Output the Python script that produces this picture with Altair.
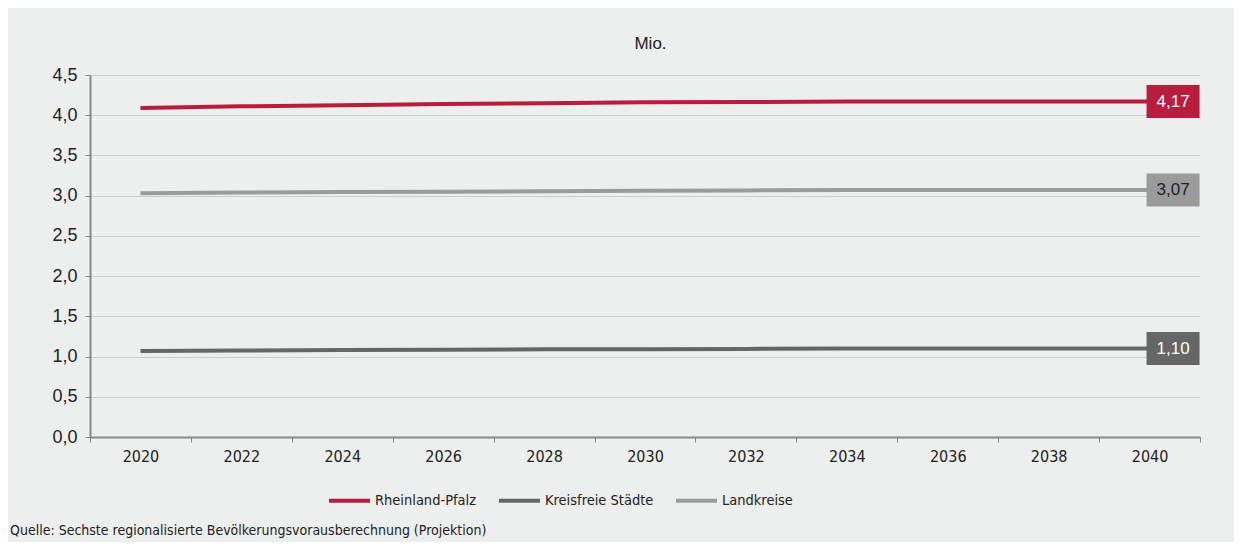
import altair as alt
import pandas as pd

years = ["2020", "2022", "2024", "2026", "2028", "2030", "2032", "2034", "2036", "2038", "2040"]
series = ["Rheinland-Pfalz", "Kreisfreie Städte", "Landkreise"]
rlp = [4.09, 4.11, 4.125, 4.14, 4.15, 4.16, 4.165, 4.17, 4.172, 4.172, 4.17]
kfs = [1.07, 1.075, 1.08, 1.085, 1.09, 1.09, 1.095, 1.10, 1.10, 1.10, 1.10]
lk = [3.03, 3.04, 3.045, 3.05, 3.055, 3.06, 3.065, 3.07, 3.07, 3.07, 3.07]
end_labels = ["4,17", "1,10", "3,07"]
end_values = [4.17, 1.10, 3.07]
colors = ["#BA1C3E", "#666666", "#9B9B9B"]
label_text_colors = ["#FFFFFF", "#FFFFFF", "#222222"]
source = "Quelle: Sechste regionalisierte Bevölkerungsvorausberechnung (Projektion)"

rows = []
for name, vals in zip(series, [rlp, kfs, lk]):
    for y, v in zip(years, vals):
        rows.append({"Jahr": y, "Wert": v, "Reihe": name})
df = pd.DataFrame(rows)

lab = pd.DataFrame({
    "Jahr": [years[-1]] * 3,
    "Wert": end_values,
    "Reihe": series,
    "Text": end_labels,
    "TextFarbe": label_text_colors,
})

NARROW = "DejaVu Sans Condensed, Liberation Sans Narrow, sans-serif"
REG = "Liberation Sans, Arial, sans-serif"

x_enc = alt.X(
    "Jahr:O",
    sort=years,
    bandPosition=0.5,
    scale=alt.Scale(type="band", paddingInner=0, paddingOuter=0),
    axis=alt.Axis(
        title=None, labelAngle=0, tickBand="extent", grid=False,
        domainColor="#888888", domainWidth=2, tickColor="#888888", tickSize=5,
        labelFont=NARROW, labelFontSize=16, labelColor="#222222", labelPadding=6,
    ),
)
y_enc = alt.Y(
    "Wert:Q",
    scale=alt.Scale(domain=[0, 4.5], nice=False),
    axis=alt.Axis(
        values=[0, 0.5, 1, 1.5, 2, 2.5, 3, 3.5, 4, 4.5],
        labelExpr="replace(format(datum.value, '.1f'), '.', ',')",
        title="Mio.", titleAngle=0, titleX=560, titleY=-32, titleAlign="center",
        titleBaseline="middle",
        titleFont=REG, titleFontSize=17, titleFontWeight="normal", titleColor="#222222",
        domainColor="#888888", domainWidth=2, tickColor="#888888", tickSize=5,
        gridColor="#CCCCCC", gridWidth=1,
        labelFont=REG, labelFontSize=18, labelColor="#222222", labelPadding=8,
    ),
)

color_scale = alt.Scale(domain=series, range=colors)

lines = alt.Chart(df).mark_line(strokeWidth=4, strokeCap="butt").encode(
    x=x_enc,
    y=y_enc,
    color=alt.Color(
        "Reihe:N", scale=color_scale, sort=series,
        legend=alt.Legend(
            title=None, orient="none", legendX=237, legendY=403, direction="horizontal",
            padding=0,
            symbolType="stroke", symbolSize=1681, symbolStrokeWidth=4,
            labelFont=NARROW, labelFontSize=14.5, labelColor="#222222",
            labelOffset=3, columnPadding=14,
        ),
    ),
    order=alt.Order("Reihe:N"),
)

boxes = alt.Chart(lab).mark_point(
    shape="M-1.606,-1H1.606V1H-1.606Z", size=1089, filled=True, opacity=1,
    strokeWidth=0, xOffset=23.5,
).encode(
    x=alt.X("Jahr:O", sort=years, bandPosition=0.5),
    y="Wert:Q",
    color=alt.Color("Reihe:N", scale=color_scale, legend=None),
)

texts = alt.Chart(lab).mark_text(
    font=REG, fontSize=17, xOffset=23.5, align="center", baseline="middle",
).encode(
    x=alt.X("Jahr:O", sort=years, bandPosition=0.5),
    y="Wert:Q",
    text="Text:N",
    color=alt.Color("TextFarbe:N", scale=None),
)

src = alt.Chart(pd.DataFrame({"t": [source]})).mark_text(
    font=NARROW, fontSize=14, align="left", baseline="middle", color="#222222",
).encode(
    text="t:N",
    x=alt.value(-80),
    y=alt.value(456),
)

chart = alt.layer(lines, boxes, texts, src).resolve_scale(color="independent").properties(
    width=1110,
    height=362,
    autosize=alt.AutoSizeParams(type="none"),
    padding={"left": 82, "top": 67, "right": 34, "bottom": 105},
    background="#EDEEEE",
).configure_view(stroke=None)

chart.save("out.html", embed_options={"renderer": "svg", "actions": False})
